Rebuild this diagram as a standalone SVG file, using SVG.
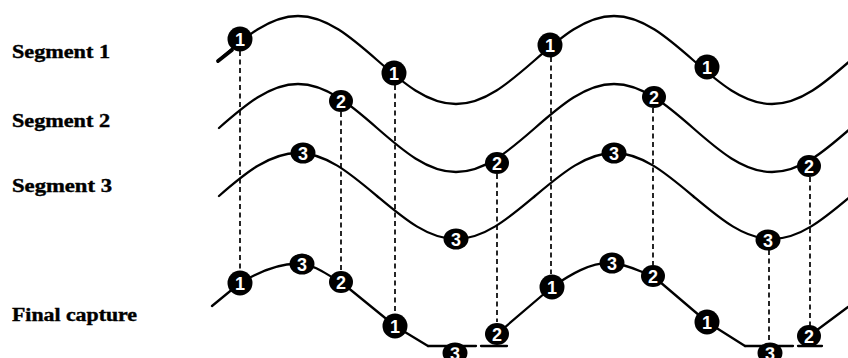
<svg xmlns="http://www.w3.org/2000/svg" width="848" height="358" viewBox="0 0 848 358">
<defs>
<style>
.wave{fill:none;stroke:#000;stroke-width:2.3;stroke-linejoin:round;stroke-linecap:round}
.dash{fill:none;stroke:#000;stroke-width:1.7;stroke-dasharray:5 3.5}
.lbl{font-family:"Liberation Serif","Times New Roman",serif;font-weight:bold;font-size:18px;fill:#000;stroke:#000;stroke-width:0.4}
.mk{fill:#000}
.dg{font-family:"Liberation Sans",Arial,sans-serif;font-weight:bold;font-size:18px;fill:#fff;text-anchor:middle}
</style>
<g id="m1"><circle class="mk" r="12.5"/><text class="dg" y="6.5">1</text></g>
<g id="m2"><ellipse class="mk" rx="12" ry="11"/><text class="dg" y="6.5">2</text></g>
<g id="m3"><ellipse class="mk" rx="12.5" ry="10.5"/><text class="dg" y="6.5">3</text></g>
</defs>
<rect width="848" height="358" fill="#fff"/>

<g id="labels">
<text class="lbl" x="12" y="58" textLength="98" lengthAdjust="spacingAndGlyphs">Segment 1</text>
<text class="lbl" x="12" y="127" textLength="98" lengthAdjust="spacingAndGlyphs">Segment 2</text>
<text class="lbl" x="12" y="192" textLength="100" lengthAdjust="spacingAndGlyphs">Segment 3</text>
<text class="lbl" x="12" y="321" textLength="125" lengthAdjust="spacingAndGlyphs">Final capture</text>
</g>

<g id="connectors">
<line class="dash" x1="240" y1="51" x2="240" y2="270"/>
<line class="dash" x1="341" y1="112" x2="341" y2="270"/>
<line class="dash" x1="395" y1="85" x2="395" y2="314"/>
<line class="dash" x1="497" y1="174" x2="497" y2="322"/>
<line class="dash" x1="551" y1="57" x2="551" y2="274"/>
<line class="dash" x1="653" y1="108" x2="653" y2="265"/>
<line class="dash" x1="769" y1="250" x2="769" y2="340"/>
<line class="dash" x1="810" y1="177" x2="810" y2="326"/>
</g>

<g id="segment1">
<path class="wave" d="M219,60 c25.76,-22.54 50.41,-44 79,-44 s53.24,21.46 79,44 s50.41,44 79,44 s53.24,-21.46 79,-44 s50.41,-44 79,-44 s53.24,21.46 79,44 s50.41,44 79,44 s53.24,-21.46 79,-44"/>
<line x1="218" y1="61" x2="232" y2="50" stroke="#000" stroke-width="3.8" stroke-linecap="round"/>
<use href="#m1" x="240" y="39"/>
<use href="#m1" x="394" y="73"/>
<use href="#m1" x="550" y="45"/>
<use href="#m1" x="707" y="67"/>
</g>

<g id="segment2">
<path class="wave" d="M219,128 c25.76,-22.54 50.41,-44 79,-44 s53.24,21.46 79,44 s50.41,44 79,44 s53.24,-21.46 79,-44 s50.41,-44 79,-44 s53.24,21.46 79,44 s50.41,44 79,44 s53.24,-21.46 79,-44"/>
<use href="#m2" x="341" y="101"/>
<use href="#m2" x="497" y="163"/>
<use href="#m2" x="654" y="97"/>
<use href="#m2" x="809" y="166"/>
</g>

<g id="segment3">
<path class="wave" d="M219,196 c25.76,-22.54 50.41,-43 79,-43 s53.24,21.46 79,43 s50.41,43 79,43 s53.24,-21.46 79,-43 s50.41,-43 79,-43 s53.24,21.46 79,43 s50.41,43 79,43 s53.24,-21.46 79,-43"/>
<use href="#m3" x="303" y="153"/>
<use href="#m3" x="456" y="239"/>
<use href="#m3" x="614" y="153"/>
<use href="#m3" x="768" y="240"/>
</g>

<g id="final">
<path class="wave" d="M212,306 L240,283 C262,270 282,262 302,264 C318,266 328,276 341,282 L395,326 L428,346 M497,334 L552,287 C570,275 590,262 612,263 C630,265 640,272 653,276 L707,322 L745,346 M809,336 L848,307"/>
<use href="#m1" x="240" y="283"/>
<use href="#m3" x="302" y="264"/>
<use href="#m2" x="341" y="282"/>
<use href="#m1" x="395" y="326"/>
<use href="#m3" x="455" y="353"/>
<use href="#m2" x="497" y="334"/>
<use href="#m1" x="552" y="287"/>
<use href="#m3" x="612" y="263"/>
<use href="#m2" x="653" y="276"/>
<use href="#m1" x="707" y="322"/>
<use href="#m3" x="770" y="353"/>
<use href="#m2" x="809" y="336"/>
<path class="wave" d="M428,346 H476 M481,346 H507 M745,346 H793 M798,346 H822"/>
</g>
</svg>
